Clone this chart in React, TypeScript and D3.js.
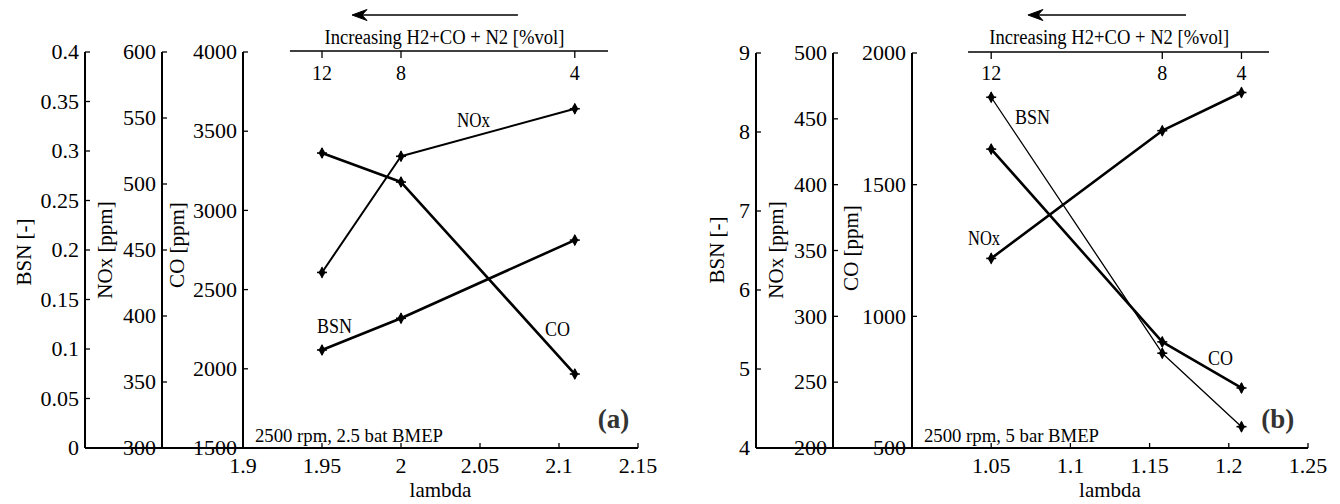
import React from "react";
import * as d3 from "d3";

// ---------- data ----------
const leftLambda = [1.95, 2.0, 2.11];
const leftBSN = [0.099, 0.131, 0.21];
const leftNOx = [433, 521, 557];
const leftCO = [3362, 3179, 1967];

const rightLambda = [1.05, 1.158, 1.208];
const rightBSN = [8.44, 5.2, 4.27];
const rightNOx = [344, 441, 470];
const rightCO = [1635, 903, 728];

const topTickLabels = ["12", "8", "4"];
const topTitle = "Increasing H2+CO + N2 [%vol]";

const leftXTicks = [1.9, 1.95, 2, 2.05, 2.1, 2.15];
const rightXTicks = [1.0, 1.05, 1.1, 1.15, 1.2, 1.25];
const rightXTickLabels = ["", "1.05", "1.1", "1.15", "1.2", "1.25"];
const leftXTickLabels = ["1.9", "1.95", "2", "2.05", "2.1", "2.15"];

const leftBSNTicks = d3.range(0, 9).map((i) => i * 0.05);
const leftNOxTicks = d3.range(300, 601, 50);
const leftCOTicks = d3.range(1500, 4001, 500);
const rightBSNTicks = d3.range(4, 10, 1);
const rightNOxTicks = d3.range(200, 501, 50);
const rightCOTicks = d3.range(500, 2001, 500);

const FONT = "'Liberation Serif', 'Times New Roman', serif";

type AxisDef = { x: number; domain: [number, number]; ticks: number[]; title: string; titleX: number; titleY: number };
type SeriesDef = { name: string; values: number[]; axis: number; width: number };
type LabelDef = { text: string; lambda: number; co: number; len: number };

type PanelDef = {
  xRange: [number, number];
  xDomain: [number, number];
  xTicks: number[];
  xTickLabels: string[];
  yTop: number;
  yBottom: number;
  axes: AxisDef[];
  lambda: number[];
  series: SeriesDef[];
  labels: LabelDef[];
  topLine: [number, number];
  arrow: [number, number];
  topTitleLambda: number;
  cond: string;
  condLen: number;
  letter: string;
  letterLambda: number;
  lambdaLabel: number;
};

const panels: PanelDef[] = [
  {
    xRange: [243, 638],
    xDomain: [1.9, 2.15],
    xTicks: leftXTicks,
    xTickLabels: leftXTickLabels,
    yTop: 52,
    yBottom: 448,
    axes: [
      { x: 85, domain: [0, 0.4], ticks: leftBSNTicks, title: "BSN [-]", titleX: 31, titleY: 252 },
      { x: 162, domain: [300, 600], ticks: leftNOxTicks, title: "NOx [ppm]", titleX: 112, titleY: 250 },
      { x: 243, domain: [1500, 4000], ticks: leftCOTicks, title: "CO [ppm]", titleX: 184, titleY: 245 },
    ],
    lambda: leftLambda,
    series: [
      { name: "BSN", values: leftBSN, axis: 0, width: 2.6 },
      { name: "NOx", values: leftNOx, axis: 1, width: 2.0 },
      { name: "CO", values: leftCO, axis: 2, width: 2.6 },
    ],
    labels: [
      { text: "NOx", lambda: 2.0354, co: 3527, len: 33 },
      { text: "CO", lambda: 2.0911, co: 2207, len: 25 },
      { text: "BSN", lambda: 1.9468, co: 2226, len: 35 },
    ],
    topLine: [1.9297, 2.131],
    arrow: [2.074, 1.969],
    topTitleLambda: 2.0275,
    cond: "2500 rpm, 2.5 bat BMEP",
    condLen: 188,
    letter: "(a)",
    letterLambda: 2.1245,
    lambdaLabel: 2.025,
  },
  {
    xRange: [912, 1308],
    xDomain: [1.0, 1.25],
    xTicks: rightXTicks,
    xTickLabels: rightXTickLabels,
    yTop: 53,
    yBottom: 448,
    axes: [
      { x: 756, domain: [4, 9], ticks: rightBSNTicks, title: "BSN [-]", titleX: 724, titleY: 250 },
      { x: 833, domain: [200, 500], ticks: rightNOxTicks, title: "NOx [ppm]", titleX: 783, titleY: 250 },
      { x: 912, domain: [500, 2000], ticks: rightCOTicks, title: "CO [ppm]", titleX: 858, titleY: 248 },
    ],
    lambda: rightLambda,
    series: [
      { name: "BSN", values: rightBSN, axis: 0, width: 1.3 },
      { name: "NOx", values: rightNOx, axis: 1, width: 2.6 },
      { name: "CO", values: rightCO, axis: 2, width: 2.6 },
    ],
    labels: [
      { text: "NOx", lambda: 1.0354, co: 1271, len: 32 },
      { text: "BSN", lambda: 1.065, co: 1730, len: 35 },
      { text: "CO", lambda: 1.1869, co: 815, len: 25 },
    ],
    topLine: [1.0354, 1.2254],
    arrow: [1.173, 1.0732],
    topTitleLambda: 1.1245,
    cond: "2500 rpm, 5 bar BMEP",
    condLen: 175,
    letter: "(b)",
    letterLambda: 1.2205,
    lambdaLabel: 1.125,
  },
];

const fmt = (v: number) => String(Math.round(v * 100) / 100);

function Marker({ x, y }: { x: number; y: number }) {
  const d = d3.symbol(d3.symbolDiamond, 42)() as string;
  return (
    <g transform={`translate(${x},${y})`}>
      <path d={d} fill="#000" />
      <line x1={-5} x2={5} y1={0} y2={0} stroke="#000" strokeWidth={1.6} />
      <line x1={0} x2={0} y1={-5} y2={5} stroke="#000" strokeWidth={1.6} />
    </g>
  );
}

function Panel({ p }: { p: PanelDef }) {
  const x = d3.scaleLinear().domain(p.xDomain).range(p.xRange);
  const ys = p.axes.map((a) => d3.scaleLinear().domain(a.domain).range([p.yBottom, p.yTop]));
  const coY = ys[2];
  const leftMost = p.axes[0].x;
  const topY = p.yTop - 1;
  const arrowY = 15;
  const ax1 = x(p.arrow[0]);
  const ax2 = x(p.arrow[1]);

  return (
    <g fontFamily={FONT} fill="#000">
      {/* bottom axis line */}
      <line x1={leftMost} x2={p.xRange[1]} y1={p.yBottom} y2={p.yBottom} stroke="#000" strokeWidth={2} />
      {p.xTicks.map((t, i) => (
        <g key={"xt" + i}>
          <line x1={x(t)} x2={x(t)} y1={p.yBottom} y2={p.yBottom - 5} stroke="#000" strokeWidth={1.3} />
          {p.xTickLabels[i] && (
            <text x={x(t)} y={473} fontSize={22} textAnchor="middle">
              {p.xTickLabels[i]}
            </text>
          )}
        </g>
      ))}
      <text x={x(p.lambdaLabel)} y={497} fontSize={21} textAnchor="middle">
        lambda
      </text>

      {/* y axes */}
      {p.axes.map((a, ai) => (
        <g key={"ax" + ai}>
          <line x1={a.x} x2={a.x} y1={p.yTop} y2={p.yBottom} stroke="#000" strokeWidth={2} />
          {a.ticks.map((t, ti) => (
            <g key={ti}>
              <line x1={a.x} x2={a.x + 5} y1={ys[ai](t)} y2={ys[ai](t)} stroke="#000" strokeWidth={1.3} />
              <text x={a.x - 6} y={ys[ai](t)} dy="0.33em" fontSize={22} textAnchor="end">
                {fmt(t)}
              </text>
            </g>
          ))}
          <text
            transform={`translate(${a.titleX},${a.titleY}) rotate(-90)`}
            fontSize={21}
            textAnchor="middle"
          >
            {a.title}
          </text>
        </g>
      ))}

      {/* top axis */}
      <line x1={x(p.topLine[0])} x2={x(p.topLine[1])} y1={topY} y2={topY} stroke="#000" strokeWidth={1.6} />
      {p.lambda.map((l, i) => (
        <g key={"tt" + i}>
          <line x1={x(l)} x2={x(l)} y1={topY} y2={topY + 7} stroke="#000" strokeWidth={1.3} />
          <text x={x(l)} y={80} fontSize={20} textAnchor="middle">
            {topTickLabels[i]}
          </text>
        </g>
      ))}
      <text x={x(p.topTitleLambda)} y={44} fontSize={20} textAnchor="middle" textLength={240} lengthAdjust="spacingAndGlyphs">
        {topTitle}
      </text>
      <line x1={ax1} x2={ax2 + 8} y1={arrowY} y2={arrowY} stroke="#000" strokeWidth={1.6} />
      <path
        d={`M${ax2},${arrowY} L${ax2 + 15},${arrowY - 5.5} L${ax2 + 10},${arrowY} L${ax2 + 15},${arrowY + 5.5} Z`}
        fill="#000"
        stroke="#000"
        strokeWidth={1}
        strokeLinejoin="miter"
      />

      {/* series */}
      {p.series.map((s, si) => {
        const line = d3
          .line<number>()
          .x((_, i) => x(p.lambda[i]))
          .y((v) => ys[s.axis](v));
        return (
          <g key={"s" + si}>
            <path d={line(s.values) as string} fill="none" stroke="#000" strokeWidth={s.width} strokeLinejoin="round" />
            {s.values.map((v, i) => (
              <Marker key={i} x={x(p.lambda[i])} y={ys[s.axis](v)} />
            ))}
          </g>
        );
      })}

      {/* labels */}
      {p.labels.map((l, li) => (
        <text key={"l" + li} x={x(l.lambda)} y={coY(l.co)} fontSize={20} textLength={l.len} lengthAdjust="spacingAndGlyphs">
          {l.text}
        </text>
      ))}
      <text x={p.xRange[0] + 12} y={442} fontSize={18.5} textLength={p.condLen} lengthAdjust="spacingAndGlyphs">
        {p.cond}
      </text>
      <text x={x(p.letterLambda)} y={428} fontSize={27} fontWeight="bold" fill="#333">
        {p.letter}
      </text>
    </g>
  );
}

export default function App() {
  return (
    <div style={{ position: "absolute", left: 0, top: 0, width: 1340, height: 504, background: "#fff" }}>
      <svg width={1340} height={504} style={{ display: "block" }}>
        <rect width={1340} height={504} fill="#fff" />
        {panels.map((p, i) => (
          <Panel key={i} p={p} />
        ))}
      </svg>
    </div>
  );
}
